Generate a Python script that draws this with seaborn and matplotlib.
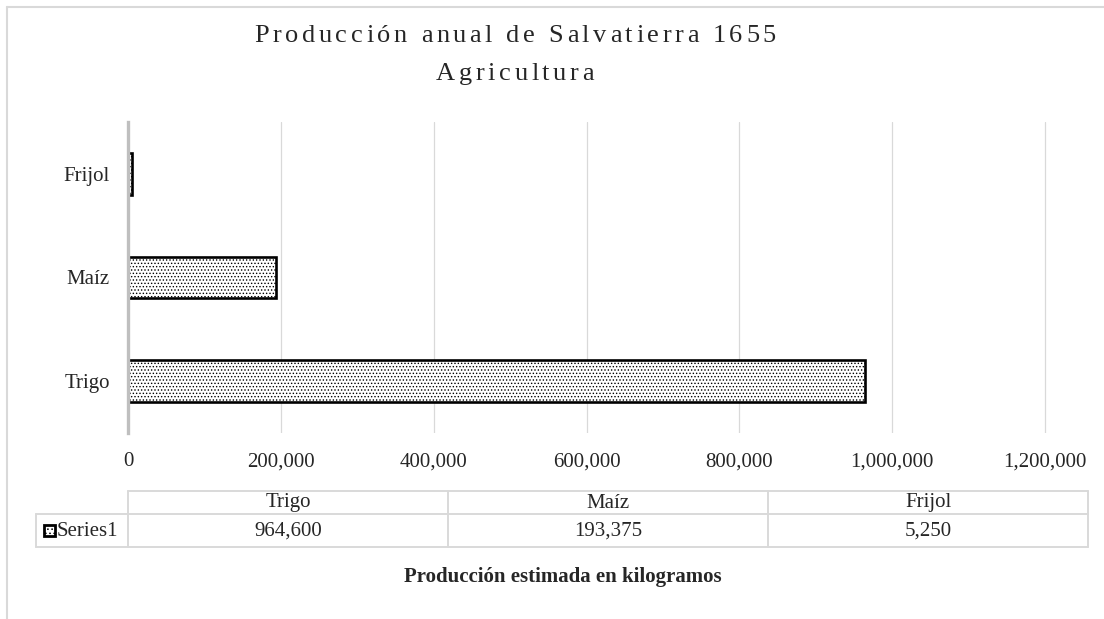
import matplotlib
matplotlib.use("Agg")
import matplotlib.pyplot as plt
from matplotlib.lines import Line2D
from matplotlib.patches import Rectangle
from matplotlib.ticker import FuncFormatter
from matplotlib.font_manager import FontProperties
import seaborn as sns
import pandas as pd

# data
categories = ["Trigo", "Maíz", "Frijol"]
produccion = [964600, 193375, 5250]
serie = "Series1"
x_ticks = [0, 200000, 400000, 600000, 800000, 1000000, 1200000]
titulo = ["Producción anual de Salvatierra 1655", "Agricultura"]
eje_x = "Producción estimada en kilogramos"

df = pd.DataFrame({"Cultivo": categories, "Kg": produccion})

W, H = 1104, 619
sns.set_style("white")
plt.rcParams["font.family"] = ["Liberation Serif", "DejaVu Serif"]
plt.rcParams["hatch.color"] = "black"
plt.rcParams["hatch.linewidth"] = 0.6

fig = plt.figure(figsize=(W / 100, H / 100), dpi=100)
fig.patch.set_facecolor("white")

def fx(px):
    return px / W

def fy(py):
    return 1 - py / H

# plot area
ax = fig.add_axes([fx(128), fy(433), fx(1088) - fx(128), fy(122) - fy(433)])
sns.barplot(data=df, x="Kg", y="Cultivo", order=categories[::-1], ax=ax,
            color="white", edgecolor="black", linewidth=1.9, width=0.4,
            hatch=".....", saturation=1)
ax.set_xlim(0, 1.256e6)
ax.set_ylim(2.5, -0.5)
ax.set_xticks(x_ticks)
ax.xaxis.set_major_formatter(FuncFormatter(lambda v, p: f"{int(v):,}"))
ax.grid(axis="x", color="#D9D9D9", linewidth=0.9)
ax.grid(axis="y", visible=False)
ax.set_axisbelow(True)
for s in ["top", "right", "bottom"]:
    ax.spines[s].set_visible(False)
ax.spines["left"].set_color("#BFBFBF")
ax.spines["left"].set_linewidth(2.4)
ax.tick_params(axis="x", length=0, pad=14, labelsize=15, colors="#262626")
ax.tick_params(axis="y", length=0, pad=13, labelsize=15, colors="#262626")
ax.set_xlabel("")
ax.set_ylabel("")

# title with letter spacing
renderer = fig.canvas.get_renderer()
fp = FontProperties(family="Liberation Serif", size=19)

def spaced(text, cx, base, extra):
    widths = [renderer.get_text_width_height_descent(c, fp, ismath=False)[0] for c in text]
    total = sum(widths) + extra * (len(text) - 1)
    x = cx - total / 2
    for c, w in zip(text, widths):
        fig.text(fx(x), fy(base), c, fontproperties=fp, ha="left", va="baseline", color="#262626")
        x += w + extra

spaced(titulo[0], 515, 42.5, 3.6)
spaced(titulo[1], 515, 80, 3.6)

# data table
tax = fig.add_axes([fx(36), fy(547), fx(1088) - fx(36), fy(491) - fy(547)])
tax.set_xlim(36, 1088)
tax.set_ylim(547, 491)
tax.axis("off")
gc = "#D9D9D9"
lk = dict(color=gc, linewidth=1.4, clip_on=False)
tax.plot([128, 1088], [491, 491], **lk)
tax.plot([36, 1088], [513.5, 513.5], **lk)
tax.plot([36, 1088], [547, 547], **lk)
tax.plot([36, 36], [513.5, 547], **lk)
col_w = (1088 - 128) / len(categories)
for i in range(len(categories) + 1):
    tax.plot([128 + i * col_w] * 2, [491, 547], **lk)
for i, (c, v) in enumerate(zip(categories, produccion)):
    cx = 128 + col_w * (i + 0.5)
    tax.text(cx, 503, c, ha="center", va="center", fontsize=15, color="#262626")
    tax.text(cx, 531, f"{v:,}", ha="center", va="center", fontsize=15, color="#262626")
tax.add_patch(Rectangle((44, 525), 11, 11, facecolor="white", edgecolor="black",
                        linewidth=2, hatch="....", clip_on=False))
tax.text(57, 531, serie, ha="left", va="center", fontsize=15, color="#262626")

# axis title
fig.text(fx(563), fy(577), eje_x, ha="center", va="center", fontsize=15,
         fontweight="bold", color="#262626")

# chart border
fig.add_artist(Line2D([fx(7), 1], [fy(7), fy(7)], color=gc, linewidth=1.5))
fig.add_artist(Line2D([fx(7), fx(7)], [fy(7), 0], color=gc, linewidth=1.5))

fig.savefig("out.png", dpi=100)
